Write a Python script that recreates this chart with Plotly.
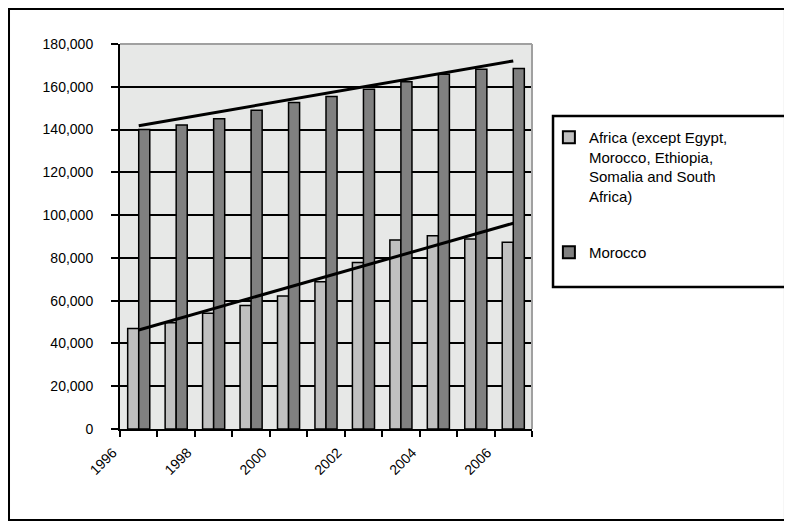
import plotly.graph_objects as go

years = [1996, 1997, 1998, 1999, 2000, 2001, 2002, 2003, 2004, 2005, 2006]
africa = [47000, 49700, 54100, 57700, 62200, 68900, 77900, 88400, 90400, 88800, 87300]
morocco = [140000, 142100, 145100, 149000, 152700, 155400, 158800, 162400, 165800, 168200, 168500]

trend_years = [1996, 2006]
africa_trend = [46300, 96200]
morocco_trend = [141800, 172100]

label_years = [1996, 1998, 2000, 2002, 2004, 2006]
y_ticks = [0, 20000, 40000, 60000, 80000, 100000, 120000, 140000, 160000, 180000]

africa_name = "Africa (except Egypt,<br>Morocco, Ethiopia,<br>Somalia and South<br>Africa)"
morocco_name = "Morocco"

FONT = "Liberation Sans, Arial, sans-serif"

fig = go.Figure()
fig.add_trace(go.Bar(x=years, y=africa, name=africa_name, legendgroup="a",
                     marker=dict(color="#c0c0c0", line=dict(color="black", width=1.5))))
fig.add_trace(go.Bar(x=years, y=morocco, name=morocco_name, legendgroup="m",
                     marker=dict(color="#808080", line=dict(color="black", width=1.5))))
fig.add_trace(go.Scatter(x=trend_years, y=africa_trend, mode="lines",
                         line=dict(color="black", width=3), showlegend=False, hoverinfo="skip"))
fig.add_trace(go.Scatter(x=trend_years, y=morocco_trend, mode="lines",
                         line=dict(color="black", width=3), showlegend=False, hoverinfo="skip"))

fig.update_layout(
    width=784, height=519,
    margin=dict(l=112, r=260, t=36, b=98),
    paper_bgcolor="white",
    plot_bgcolor="#e7e8e7",
    barmode="group", bargap=0.41, bargroupgap=0,
    font=dict(family=FONT, size=14, color="black"),
    showlegend=True,
    legend=dict(x=1.041, y=0.80, xanchor="left", yanchor="top",
                font=dict(family=FONT, size=15, color="black"),
                bgcolor="rgba(0,0,0,0)", borderwidth=0, tracegroupgap=34,
                valign="top", itemsizing="constant"),
    xaxis=dict(range=[1995.5, 2006.5], tickmode="array",
               tickvals=label_years,
               ticktext=[str(v) for v in label_years], tickangle=-45,
               ticklabelshift=-26, ticklabelstandoff=8,
               ticks="", showgrid=False, zeroline=False,
               showline=True, linecolor="black", linewidth=2,
               tickfont=dict(family=FONT, size=14, color="black"),
               minor=dict(tick0=1995.5, dtick=1, ticks="outside", ticklen=6,
                          tickwidth=1.5, tickcolor="black", showgrid=False)),
    yaxis=dict(range=[0, 180000], tickmode="array", tickvals=y_ticks,
               tickformat=",", ticks="outside", ticklen=7, tickwidth=1.5,
               tickcolor="black", showgrid=True, gridcolor="black", gridwidth=1.5,
               zeroline=False, showline=True, linecolor="black", linewidth=2,
               ticklabelstandoff=15,
               tickfont=dict(family=FONT, size=14, color="black")),
    shapes=[
        dict(type="line", xref="paper", yref="paper", x0=0, x1=1, y0=1, y1=1,
             line=dict(color="#a0a0a0", width=2), layer="above"),
        dict(type="line", xref="paper", yref="paper", x0=1, x1=1, y0=0, y1=1,
             line=dict(color="#a0a0a0", width=2), layer="above"),
        dict(type="rect", xref="paper", yref="paper", x0=1.051, x1=1.64, y0=0.369, y1=0.813,
             line=dict(color="black", width=2.5), fillcolor="rgba(0,0,0,0)", layer="above"),
        dict(type="rect", xref="paper", yref="paper", x0=-0.2694, x1=1.614, y0=-0.2364, y1=1.0909,
             line=dict(color="black", width=2), fillcolor="rgba(0,0,0,0)", layer="above"),
    ],
)

fig.write_html("out.html")
